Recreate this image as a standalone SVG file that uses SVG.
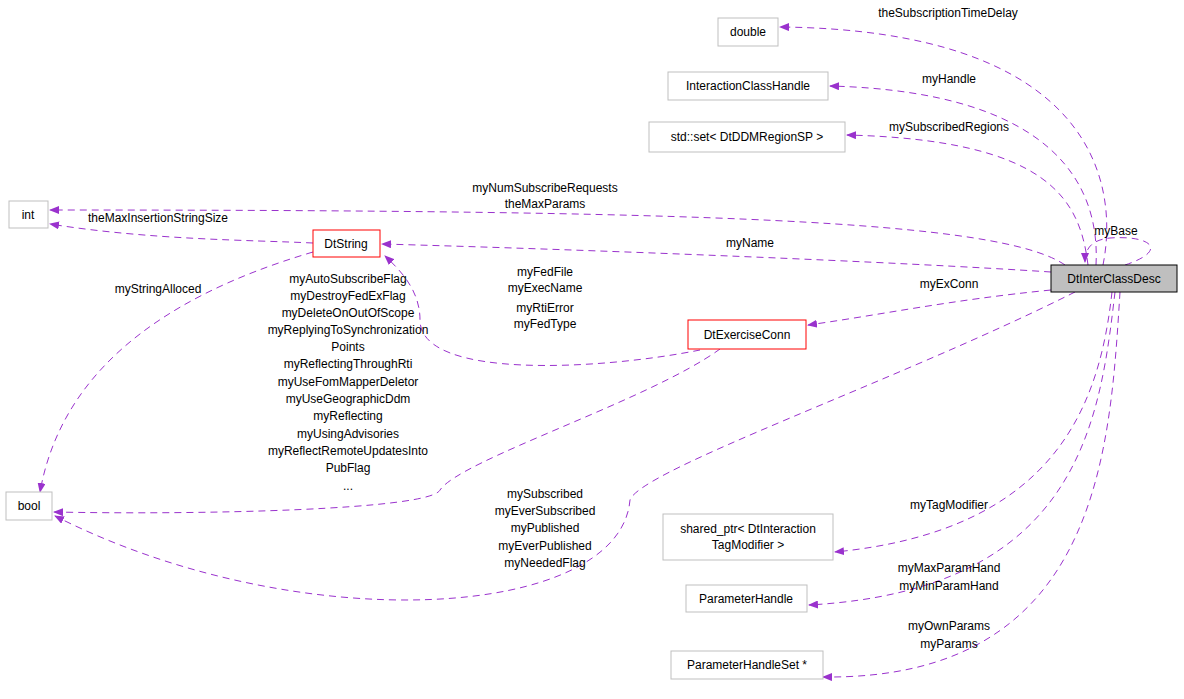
<svg xmlns="http://www.w3.org/2000/svg" width="1184" height="699" viewBox="0 0 1184 699">
<style>
text{font-family:"Liberation Sans",Arial,sans-serif;font-size:12px;text-anchor:middle;fill:#000}
.n{fill:#fff;stroke:#bfbfbf}
.r{fill:#fff;stroke:#ff0000}
.e{fill:none;stroke:#9a32cd;stroke-dasharray:7,5}
</style>
<defs><marker id="a" markerWidth="10" markerHeight="8" refX="9" refY="4" orient="auto" markerUnits="userSpaceOnUse"><path d="M0,0L10,4L0,8z" fill="#9a32cd"/></marker></defs>
<rect width="1184" height="699" fill="#fff"/>
<g id="edges">
<path class="e" marker-end="url(#a)" d="M1103,265C1120,180 1090,30 780,27"/>
<path class="e" marker-end="url(#a)" d="M1096,265C1100,190 1060,92 830,86"/>
<path class="e" marker-end="url(#a)" d="M1088,265C1080,200 1050,140 847,135"/>
<path class="e" marker-end="url(#a)" d="M1065,265C1000,220 700,210 50,210"/>
<path class="e" marker-end="url(#a)" d="M313,243C250,240 150,240 50,224"/>
<path class="e" marker-end="url(#a)" d="M1051,272C900,262 600,250 382,244"/>
<path class="e" marker-end="url(#a)" d="M1051,290C950,300 880,315 808,325"/>
<path class="e" marker-end="url(#a)" d="M700,350C600,370 420,380 420,320C420,290 400,270 385,256"/>
<path class="e" marker-end="url(#a)" d="M313,252C150,300 60,380 40,492"/>
<path class="e" marker-end="url(#a)" d="M720,349C650,400 460,460 440,490C430,510 200,515 54,512"/>
<path class="e" marker-end="url(#a)" d="M1075,292C900,380 640,470 630,500C620,620 300,640 55,516"/>
<path class="e" marker-end="url(#a)" d="M1112,292C1100,400 1060,530 835,552"/>
<path class="e" marker-end="url(#a)" d="M1115,292C1100,420 1080,590 809,605"/>
<path class="e" marker-end="url(#a)" d="M1120,292C1110,450 1100,680 823,677"/>
<path class="e" marker-end="url(#a)" d="M1125,265C1170,250 1150,235 1110,238C1090,240 1085,250 1085,262"/>
</g>
<g id="DtInterClassDesc"><rect x="1051" y="265" width="126" height="27" fill="#bfbfbf" stroke="#000"/><text x="1114" y="283">DtInterClassDesc</text></g>
<g id="double"><rect class="n" x="718" y="18" width="60" height="28"/><text x="748" y="36">double</text></g>
<g id="InteractionClassHandle"><rect class="n" x="668" y="72" width="160" height="28"/><text x="748" y="90">InteractionClassHandle</text></g>
<g id="stdset"><rect class="n" x="649" y="122" width="196" height="30"/><text x="747" y="141">std::set&lt; DtDDMRegionSP &gt;</text></g>
<g id="int"><rect class="n" x="9" y="201" width="39" height="27"/><text x="28" y="219">int</text></g>
<g id="DtString"><rect class="r" x="313" y="230" width="67" height="27"/><text x="346" y="248">DtString</text></g>
<g id="DtExerciseConn"><rect class="r" x="688" y="320" width="118" height="29"/><text x="747" y="339">DtExerciseConn</text></g>
<g id="bool"><rect class="n" x="6" y="492" width="46" height="28"/><text x="29" y="510">bool</text></g>
<g id="shared_ptr"><rect class="n" x="663" y="514" width="170" height="46"/><text x="748" y="533">shared_ptr&lt; DtInteraction</text><text x="748" y="549">TagModifier &gt;</text></g>
<g id="ParameterHandle"><rect class="n" x="686" y="585" width="121" height="27"/><text x="746" y="603">ParameterHandle</text></g>
<g id="ParameterHandleSet"><rect class="n" x="671" y="651" width="152" height="28"/><text x="747" y="669">ParameterHandleSet *</text></g>
<g id="labels">
<text x="948" y="17">theSubscriptionTimeDelay</text>
<text x="949" y="83">myHandle</text>
<text x="949" y="131">mySubscribedRegions</text>
<text x="545" y="192">myNumSubscribeRequests</text>
<text x="545" y="208">theMaxParams</text>
<text x="158" y="222">theMaxInsertionStringSize</text>
<text x="1116" y="235">myBase</text>
<text x="750" y="247">myName</text>
<text x="949" y="288">myExConn</text>
<text x="545" y="276">myFedFile</text>
<text x="545" y="292">myExecName</text>
<text x="545" y="312">myRtiError</text>
<text x="545" y="328">myFedType</text>
<text x="158" y="293">myStringAlloced</text>
<text x="348" y="283">myAutoSubscribeFlag</text>
<text x="348" y="300">myDestroyFedExFlag</text>
<text x="348" y="317">myDeleteOnOutOfScope</text>
<text x="348" y="334">myReplyingToSynchronization</text>
<text x="348" y="351">Points</text>
<text x="348" y="368">myReflectingThroughRti</text>
<text x="348" y="386">myUseFomMapperDeletor</text>
<text x="348" y="403">myUseGeographicDdm</text>
<text x="348" y="420">myReflecting</text>
<text x="348" y="438">myUsingAdvisories</text>
<text x="348" y="455">myReflectRemoteUpdatesInto</text>
<text x="348" y="472">PubFlag</text>
<text x="348" y="490">...</text>
<text x="545" y="498">mySubscribed</text>
<text x="545" y="515">myEverSubscribed</text>
<text x="545" y="532">myPublished</text>
<text x="545" y="550">myEverPublished</text>
<text x="545" y="567">myNeededFlag</text>
<text x="949" y="509">myTagModifier</text>
<text x="949" y="572">myMaxParamHand</text>
<text x="949" y="590">myMinParamHand</text>
<text x="949" y="630">myOwnParams</text>
<text x="949" y="648">myParams</text>
</g>
</svg>
